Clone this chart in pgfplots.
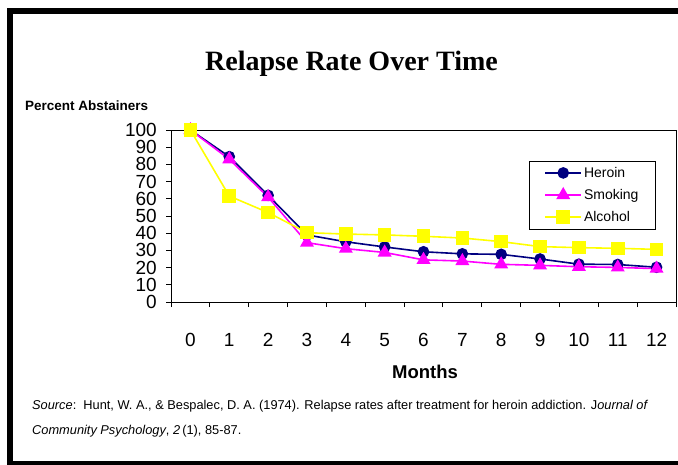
\documentclass[border=0pt]{standalone}
\usepackage{pgfplots}
\pgfplotsset{compat=1.18}
\usepackage{fontspec}
\setmainfont{Liberation Sans}
\newfontfamily\timesfont{Liberation Serif}
\definecolor{heroin}{RGB}{0,0,128}
\definecolor{smoking}{RGB}{255,0,255}
\definecolor{alcohol}{RGB}{255,255,0}
\begin{document}
\begin{tikzpicture}[x=1pt,y=1pt]
\clip (0,0) rectangle (678,464);
\useasboundingbox (0,0) rectangle (678,464);
\fill[white] (0,0) rectangle (678,464);
\begin{axis}[
  at={(171pt,162pt)}, anchor=south west,
  scale only axis, width=505pt, height=172pt,
  axis lines=box,
  xmin=-0.5, xmax=12.5, ymin=0, ymax=100,
  xtick={0,...,12},
  minor xtick={-0.5,0.5,...,12.5},
  ytick={0,10,...,100},
  major x tick style={draw=none},
  tick align=outside,
  major tick length=5pt, minor tick length=5pt,
  every tick/.style={black, line width=0.9pt},
  axis line style={black, line width=0.9pt},
  ytick pos=left, xtick pos=bottom,
  /pgf/number format/assume math mode=true,
  tick label style={font=\fontsize{19}{19}\selectfont},
  yticklabel style={anchor=east, inner sep=0pt, xshift=-9pt},
  xticklabel style={anchor=center, inner sep=0pt, yshift=-33pt},
  legend cell align=left,
  legend style={at={(0.709,0.8215)}, anchor=north west, draw=black, line width=0.8pt,
    font=\fontsize{14}{14}\selectfont, inner xsep=15pt, inner ysep=4pt, row sep=6.5pt},
  legend image code/.code={\draw[mark repeat=2,mark phase=2,#1] plot coordinates {(0pt,0pt) (18pt,0pt) (36pt,0pt)};},
]
\addplot[heroin, line width=1.6pt, mark=*, mark size=5pt, mark options={solid, fill=heroin}] coordinates {
(0,100) (1,84.5) (2,62) (3,39) (4,35) (5,32) (6,29.2) (7,28) (8,27.7) (9,25) (10,22) (11,21.8) (12,20.2)};
\addlegendentry{Heroin}
\addplot[smoking, line width=1.6pt, mark=triangle*, mark size=6.5pt, mark options={solid, fill=smoking}] coordinates {
(0,100) (1,83) (2,61) (3,34.5) (4,31) (5,28.8) (6,24.5) (7,23.8) (8,21.9) (9,21.3) (10,20.5) (11,20.1) (12,19.4)};
\addlegendentry{Smoking}
\addplot[alcohol, line width=1.6pt, mark=square*, mark size=6pt, mark options={solid, fill=alcohol}] coordinates {
(0,100) (1,61.6) (2,52) (3,40.3) (4,39.5) (5,39) (6,38.2) (7,37.2) (8,35.1) (9,32.2) (10,31.6) (11,31.2) (12,30.6)};
\addlegendentry{Alcohol}
\end{axis}
\node[font=\timesfont\bfseries\fontsize{28}{28}\selectfont, inner sep=0pt] at (351.5,400.5) {Relapse Rate Over Time};
\node[font=\bfseries\fontsize{13.5}{13.5}\selectfont, anchor=west, inner sep=0pt] at (25,358.3) {Percent Abstainers};
\node[font=\bfseries\fontsize{18.5}{18.5}\selectfont, inner sep=0pt] at (425,92) {Months};
\node[font=\fontsize{12.8}{12.8}\selectfont, anchor=base west, inner sep=0pt] at (32,54.5) {\textit{Source}:\ \ Hunt, W. A., \& Bespalec, D. A. (1974). Relapse rates after treatment for heroin addiction. J\textit{ournal of}};
\node[font=\fontsize{12.8}{12.8}\selectfont, anchor=base west, inner sep=0pt] at (32,29.5) {\textit{Community Psychology}, \textit{2}\,(1), 85-87.};
\draw[line width=6.5pt] (10,0.25) rectangle (700,452.75);
\end{tikzpicture}
\end{document}
